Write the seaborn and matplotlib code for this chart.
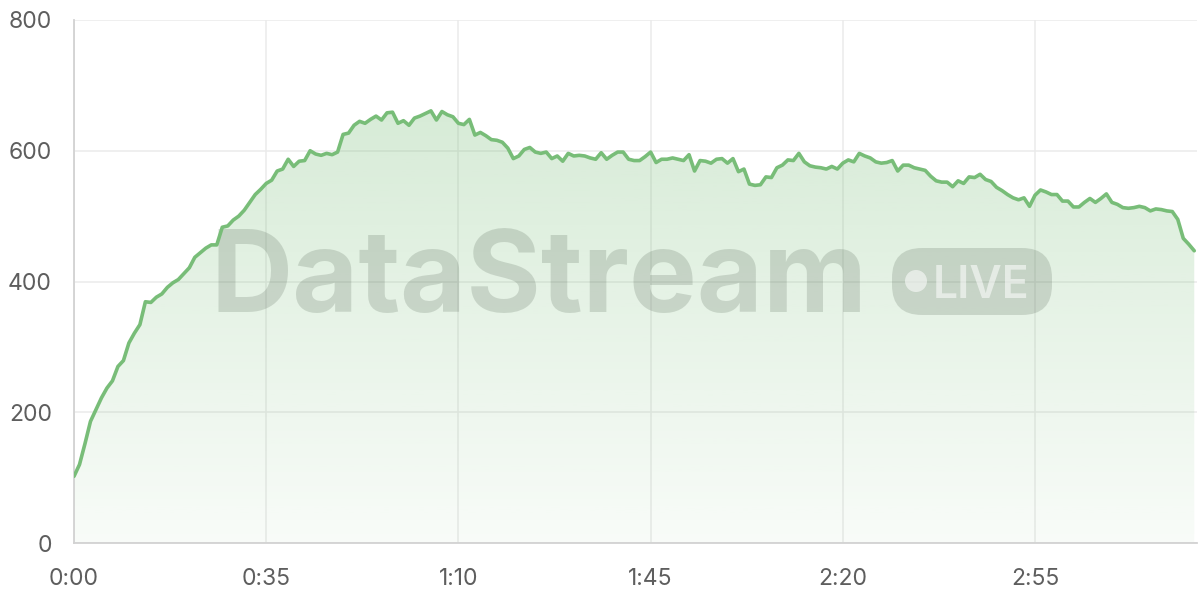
import numpy as np
import matplotlib
matplotlib.use("Agg")
import matplotlib.pyplot as plt
import seaborn as sns
from matplotlib.patches import FancyBboxPatch, Circle
from matplotlib.ticker import FuncFormatter

# viewers per second
seconds = list(range(205))
viewers = [
    102, 120, 152, 186, 204, 222, 237, 248, 270, 279,
    306, 321, 334, 369, 368, 376, 381, 391, 398, 403,
    412, 421, 437, 444, 451, 456, 456, 483, 485, 494,
    500, 509, 521, 533, 541, 550, 555, 569, 572, 587,
    576, 584, 585, 600, 595, 593, 596, 594, 598, 625,
    627, 639, 645, 642, 648, 653, 647, 658, 659, 642,
    646, 639, 650, 653, 657, 661, 647, 660, 655, 652,
    642, 640, 648, 624, 628, 623, 617, 616, 613, 604,
    588, 592, 602, 605, 598, 596, 598, 588, 592, 584,
    596, 592, 593, 592, 589, 587, 597, 587, 593, 598,
    598, 587, 585, 585, 591, 598, 582, 587, 587, 589,
    587, 585, 594, 569, 585, 584, 581, 587, 588, 581,
    588, 568, 572, 549, 547, 548, 560, 559, 574, 578,
    586, 585, 596, 583, 577, 575, 574, 572, 576, 572,
    581, 586, 583, 596, 592, 589, 583, 581, 582, 585,
    569, 578, 578, 574, 572, 570, 561, 554, 552, 552,
    545, 554, 550, 560, 559, 564, 556, 553, 544, 539,
    533, 528, 525, 528, 515, 532, 540, 537, 533, 533,
    523, 523, 514, 514, 521, 527, 521, 527, 534, 521,
    518, 513, 512, 513, 515, 513, 508, 511, 510, 508,
    507, 495, 466, 457, 447,
]
x_ticks = [0, 35, 70, 105, 140, 175]
y_ticks = [0, 200, 400, 600, 800]

sns.set_theme(style="white")
plt.rcParams['font.family'] = ['Inter', 'DejaVu Sans']

line_col = '#78bd78'
grid_col = '#ebebeb'
text_col = '#5e5e5e'

fig = plt.figure(figsize=(12, 6), dpi=100)
ax = fig.add_axes([74/1200, 57/600, 1123/1200, 523/600])

# gradient fill under the line
poly = ax.fill_between(seconds, viewers, 0, facecolor='none', edgecolor='none')
grad = np.zeros((256, 1, 4))
rgb = matplotlib.colors.to_rgb(line_col)
grad[:, 0, :3] = rgb
grad[:, 0, 3] = np.linspace(0.05, 0.30, 256)
img = ax.imshow(grad, aspect='auto', origin='lower', extent=[0, 204, 0, 670], zorder=1)
img.set_clip_path(poly.get_paths()[0], transform=ax.transData)

sns.lineplot(x=seconds, y=viewers, ax=ax, color=line_col, linewidth=2.6, zorder=3)

ax.set_xlim(0, 204.5)
ax.set_ylim(0, 800)
ax.set_xticks(x_ticks)
ax.set_yticks(y_ticks)
ax.xaxis.set_major_formatter(FuncFormatter(lambda v, p: f"{int(v)//60}:{int(v)%60:02d}"))
ax.grid(True, color=grid_col, linewidth=1.1, zorder=0)
ax.set_axisbelow(True)
ax.tick_params(axis='both', length=11, width=1.1, color=grid_col,
               labelsize=16.5, labelcolor=text_col)
ax.tick_params(axis='y', pad=5)
ax.tick_params(axis='x', pad=7)
for s in ['top', 'right']:
    ax.spines[s].set_visible(False)
for s in ['left', 'bottom']:
    ax.spines[s].set_color('#d2d2d2')
    ax.spines[s].set_linewidth(1.3)

# watermark
tr = fig.dpi_scale_trans
ax.text(2.10, 2.88, 'DataStream', transform=tr, fontsize=82, fontweight='bold',
        color='#3f4f3f', alpha=0.18, ha='left', va='baseline', zorder=2, clip_on=False)
badge = FancyBboxPatch((8.92, 2.85), 1.60, 0.67,
                       boxstyle='round,pad=0,rounding_size=0.3',
                       transform=tr, facecolor='#3f4f3f', alpha=0.18,
                       edgecolor='none', zorder=2, clip_on=False)
ax.add_patch(badge)
ax.add_patch(Circle((9.16, 3.19), 0.11, transform=tr, facecolor='white',
                    alpha=0.55, edgecolor='none', zorder=2, clip_on=False))
ax.text(9.33, 3.02, 'LIVE', transform=tr, fontsize=32, fontweight='semibold',
        color='white', alpha=0.55, ha='left', va='baseline', zorder=2, clip_on=False)

fig.savefig('out.png', dpi=100)
